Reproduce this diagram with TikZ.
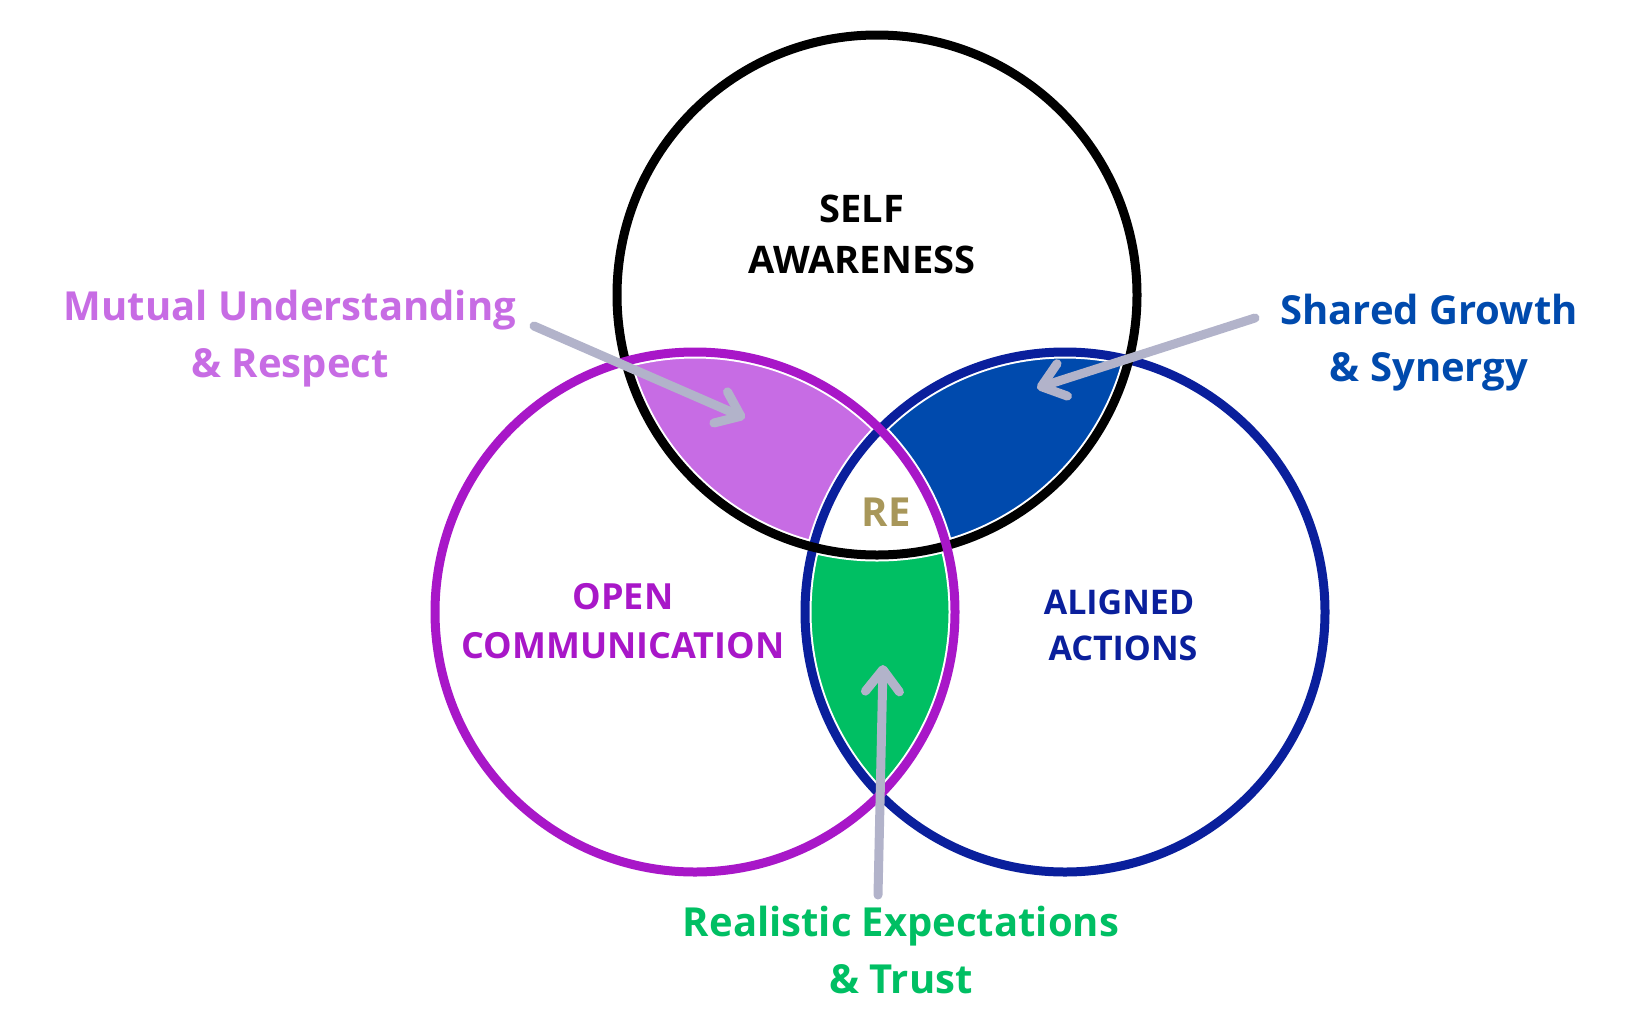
\documentclass[tikz,border=0pt]{standalone}
\usepackage{fontspec}
\setmainfont{Open Sans}
\usetikzlibrary{arrows.meta}
\definecolor{cBlack}{HTML}{000000}
\definecolor{cPurple}{HTML}{A817C8}
\definecolor{cNavy}{HTML}{0A1F9C}
\definecolor{cLilac}{HTML}{C76CE4}
\definecolor{cBlue}{HTML}{004AAD}
\definecolor{cGreen}{HTML}{00BF63}
\definecolor{cGold}{HTML}{A8975A}
\definecolor{cArrow}{HTML}{B2B3CA}
\tikzset{
  ring/.style={line width=9pt},
  halo/.style={white,line width=13pt},
  inlabel/.style={align=center, inner sep=0pt},
  outlabel/.style={font=\fontsize{40}{57}\selectfont\bfseries, align=center, inner sep=0pt},
  pointer/.style={cArrow, line width=9pt, line cap=round,
    -{Straight Barb[length=22pt,width=34pt,round]}}
}
\begin{document}
\begin{tikzpicture}[x=1pt,y=-1pt]
\useasboundingbox (0,0) rectangle (1647,1015);
\coordinate (cT) at (877,295);
\coordinate (cL) at (695,612);
\coordinate (cR) at (1065,612);
% filled lenses
\begin{scope}
  \clip (cT) circle[radius=260pt];
  \clip (cL) circle[radius=260pt];
  \fill[cLilac,even odd rule] (0,0) rectangle (1647,1015) (cR) circle[radius=260pt];
\end{scope}
\begin{scope}
  \clip (cT) circle[radius=260pt];
  \clip (cR) circle[radius=260pt];
  \fill[cBlue,even odd rule] (0,0) rectangle (1647,1015) (cL) circle[radius=260pt];
\end{scope}
\begin{scope}
  \clip (cL) circle[radius=260pt];
  \clip (cR) circle[radius=260pt];
  \fill[cGreen,even odd rule] (0,0) rectangle (1647,1015) (cT) circle[radius=260pt];
\end{scope}
% white halos
\draw[halo] (cT) circle[radius=260pt];
\draw[halo] (cL) circle[radius=260pt];
\draw[halo] (cR) circle[radius=260pt];
% rings
\draw[ring,cNavy] (cR) circle[radius=260pt];
\draw[ring,cBlack] (cT) circle[radius=260pt];
\draw[ring,cPurple] (cL) circle[radius=260pt];
% inner labels
\node[inlabel,text=black,font=\fontsize{38}{51}\selectfont\bfseries] (self) at (862,234) {SELF\\AWARENESS};
\node[inlabel,text=cPurple,font=\fontsize{36}{49}\selectfont\bfseries] (open) at (623,621) {OPEN\\COMMUNICATION};
\node[inlabel,text=cNavy,font=\fontsize{34}{46}\selectfont\bfseries] (aligned) at (1119,625) {ALIGNED\\\hspace*{8pt}ACTIONS};
\node[inlabel,text=cGold,font=\fontsize{40}{50}\selectfont\bfseries] (re) at (886,512) {RE};
% outer labels
\node[outlabel,text=cLilac] (mutual) at (290,339) {Mutual Understanding\\\& Respect};
\node[outlabel,text=cBlue] (shared) at (1429,343) {Shared Growth\\\& Synergy};
\node[outlabel,text=cGreen] (real) at (901,950) {Realistic Expectations\\\& Trust};
% arrows
\coordinate (mutS) at (534,326);
\coordinate (mutE) at (745,418);
\coordinate (shS) at (1255,318);
\coordinate (shE) at (1037,388);
\coordinate (reS) at (878,895);
\coordinate (reE) at (883,665);
\draw[pointer] (mutS) -- (mutE);
\draw[pointer] (shS) -- (shE);
\draw[pointer] (reS) -- (reE);
\end{tikzpicture}
\end{document}
